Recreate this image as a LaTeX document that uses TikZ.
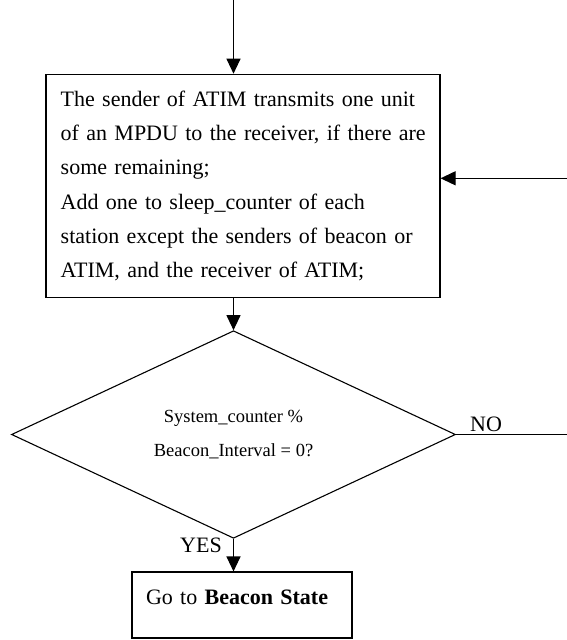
\documentclass[tikz,border=0pt]{standalone}
\usepackage{fontspec}
\setmainfont{Liberation Serif}
\usetikzlibrary{arrows.meta,shapes.geometric}

\begin{document}
\begin{tikzpicture}[x=1pt,y=1pt,
  every node/.style={font=\fontsize{22}{34.2}\selectfont},
  line/.style={line width=1.1pt,draw=black},
  flow/.style={line, -{Triangle[length=15pt,width=14pt]}},
  procbox/.style={draw=black,line width=1.1pt,rectangle,align=left},
  decision/.style={draw=black,line width=1.1pt,diamond,inner sep=0pt,
    align=center,font=\fontsize{18.5}{33.5}\selectfont},
  tag/.style={inner sep=0pt,anchor=base west}
]
  \useasboundingbox (0,0) rectangle (567,-640);

  % processing step (each line kept whole)
  \node[procbox, minimum width=394pt, minimum height=223.5pt,
        inner xsep=14.7pt, text width=364.6pt] (box) at (243,-186)
    {\mbox{The sender of ATIM transmits one unit}\\
     \mbox{of an MPDU to the receiver, if there are}\\
     \mbox{some remaining;}\\
     \mbox{Add one to sleep\_counter of each}\\
     \mbox{station except the senders of beacon or}\\
     \mbox{ATIM, and the receiver of ATIM;}};

  % test on the counter
  \node[decision, minimum width=444pt, minimum height=171pt] (dec) at (233.5,-434.5)
    {System\_counter \%\\ Beacon\_Interval = 0?};

  % next state
  \node[procbox, minimum width=220pt, minimum height=66pt,
        inner xsep=14pt, text width=192pt, text height=16pt, text depth=18pt] (beacon) at (242,-605)
    {Go to \textbf{Beacon State}};

  % branch labels
  \node[tag] (no) at (470,-431.7) {NO};
  \node[tag] (yes) at (180,-552.3) {YES};

  % loose ends of the connectors
  \coordinate (entry) at (233.5,0);
  \coordinate (loopin) at (567,-178.3);
  \coordinate (noout) at (567,-434.5);

  % connectors
  \draw[flow] (entry) -- (entry |- box.north);
  \draw[flow] (loopin) -- (loopin -| box.east);
  \draw[flow] (box.south -| dec.north) -- (dec.north);
  \draw[line] (dec.east) -- (noout);
  \draw[flow] (dec.south) -- (dec.south |- beacon.north);
\end{tikzpicture}
\end{document}
